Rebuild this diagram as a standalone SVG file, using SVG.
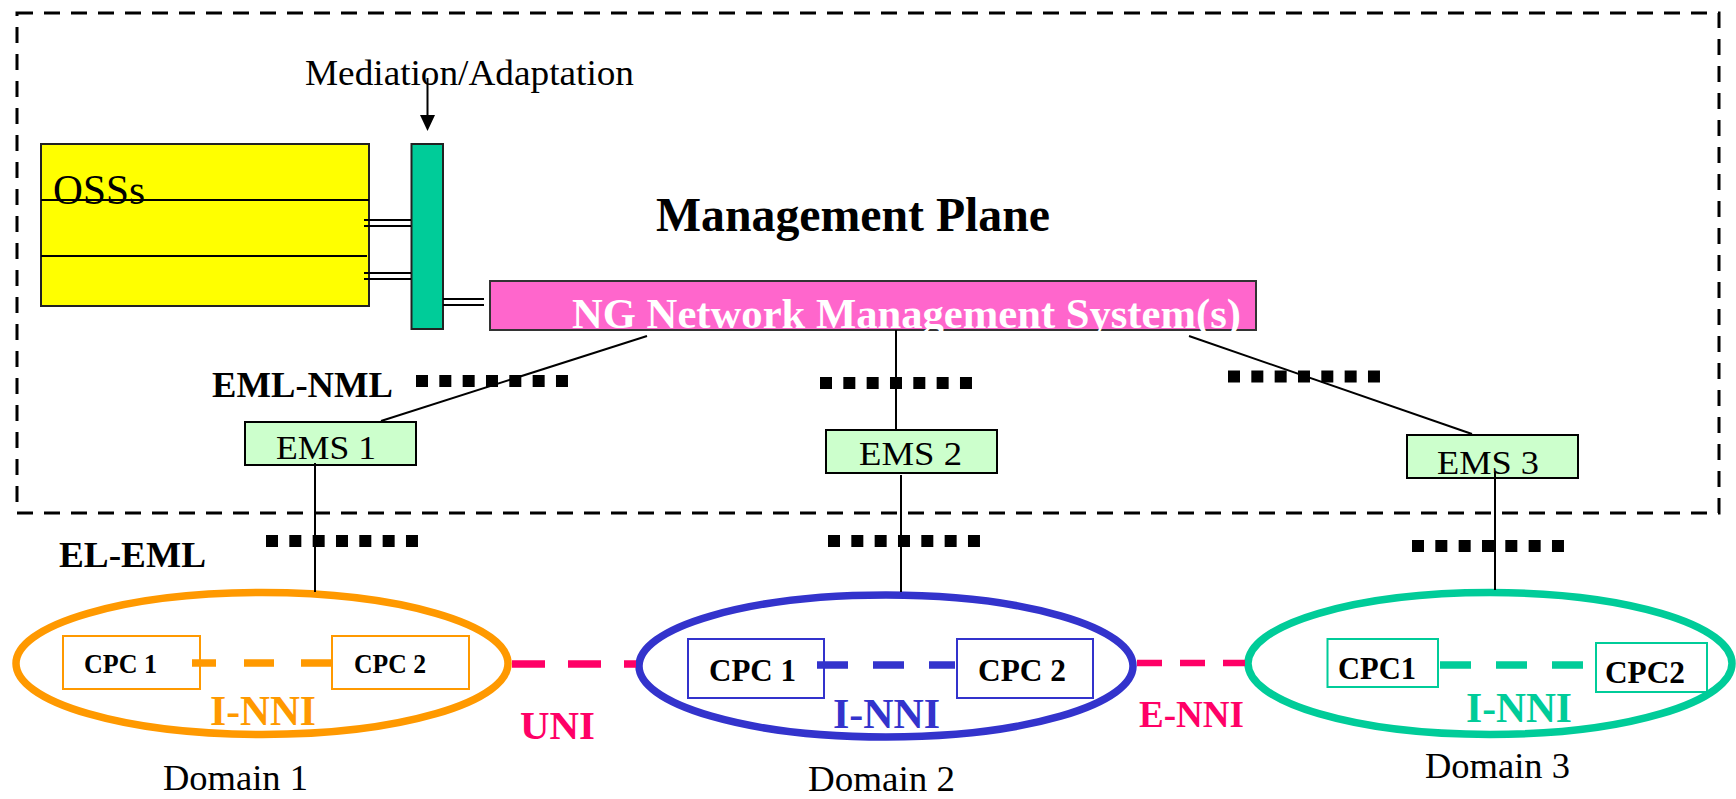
<svg xmlns="http://www.w3.org/2000/svg" width="1736" height="799" viewBox="0 0 1736 799">
<style>
text{font-family:"Liberation Serif","Times New Roman",serif}
.b{font-weight:bold}
.thin{stroke:#000;stroke-width:2;fill:none}
.dots{stroke:#000;stroke-width:12;stroke-dasharray:12 11.33;fill:none}
.ems{fill:#CCFFCC;stroke:#000;stroke-width:2}
.ell{fill:none;stroke-width:7.5}
.cpc{fill:none;stroke-width:2}
.iface{fill:none;stroke-width:7.5}
</style>
<defs>
<marker id="arr" markerWidth="16" markerHeight="15" refX="0" refY="7.5" viewBox="0 0 16 15" markerUnits="userSpaceOnUse" orient="auto">
<path d="M0,0 L16,7.5 L0,15 Z" fill="#000"/>
</marker>
</defs>
<rect width="1736" height="799" fill="#fff"/>

<g id="management-plane">
<rect x="17" y="13" width="1702" height="500" fill="none" stroke="#000" stroke-width="3" stroke-dasharray="16 11"/>
<text x="656" y="231" font-size="48" class="b" textLength="394" lengthAdjust="spacingAndGlyphs">Management Plane</text>
</g>

<g id="mediation-label">
<text x="305" y="85" font-size="36" textLength="329" lengthAdjust="spacingAndGlyphs">Mediation/Adaptation</text>
</g>

<g id="oss">
<rect x="41" y="144" width="328" height="162" fill="#FFFF00" stroke="#222" stroke-width="2"/>
<line x1="41" y1="200" x2="369" y2="200" stroke="#000" stroke-width="2"/>
<line x1="41" y1="256" x2="367" y2="256" stroke="#000" stroke-width="2"/>
<text x="53" y="204" font-size="43" textLength="92" lengthAdjust="spacingAndGlyphs">OSSs</text>
</g>

<g id="mediation-bar">
<rect x="411.5" y="144" width="31.5" height="185" fill="#00CC99" stroke="#222" stroke-width="2"/>
</g>

<g id="ngnms">
<rect x="490" y="281" width="766" height="49" fill="#FF66CC" stroke="#333" stroke-width="2"/>
<text x="572" y="328" font-size="42" class="b" fill="#fff" textLength="669" lengthAdjust="spacingAndGlyphs">NG Network Management System(s)</text>
</g>

<g id="level-labels">
<text x="212" y="397" font-size="36" class="b" textLength="181" lengthAdjust="spacingAndGlyphs">EML-NML</text>
<text x="59" y="567" font-size="36" class="b" textLength="147" lengthAdjust="spacingAndGlyphs">EL-EML</text>
<line class="dots" x1="416" y1="381" x2="568" y2="381"/>
<line class="dots" x1="820" y1="383" x2="972" y2="383"/>
<line class="dots" x1="1228" y1="376.5" x2="1380" y2="376.5"/>
<line class="dots" x1="266" y1="541" x2="418" y2="541"/>
<line class="dots" x1="828" y1="541" x2="980" y2="541"/>
<line class="dots" x1="1412" y1="546" x2="1564" y2="546"/>
</g>

<g id="ems1">
<rect class="ems" x="245" y="422" width="171" height="43"/>
<text x="276" y="459" font-size="34" textLength="100" lengthAdjust="spacingAndGlyphs">EMS 1</text>
</g>
<g id="ems2">
<rect class="ems" x="826" y="430" width="171" height="43"/>
<text x="859" y="465" font-size="34" textLength="103" lengthAdjust="spacingAndGlyphs">EMS 2</text>
</g>
<g id="ems3">
<rect class="ems" x="1407" y="435" width="171" height="43"/>
<text x="1437" y="474" font-size="34" textLength="102" lengthAdjust="spacingAndGlyphs">EMS 3</text>
</g>

<g id="domain1">
<ellipse class="ell" cx="262" cy="663.5" rx="246" ry="71" stroke="#FF9900"/>
<rect class="cpc" x="63" y="636" width="137" height="53" stroke="#FF9900"/>
<text x="84" y="673" font-size="27" class="b" textLength="73" lengthAdjust="spacingAndGlyphs">CPC 1</text>
<rect class="cpc" x="332" y="636" width="137" height="53" stroke="#FF9900"/>
<text x="354" y="673" font-size="27" class="b" textLength="72" lengthAdjust="spacingAndGlyphs">CPC 2</text>
<text x="210" y="725" font-size="42" class="b" fill="#FF9900" textLength="106" lengthAdjust="spacingAndGlyphs">I-NNI</text>
<text x="163" y="790" font-size="36" textLength="145" lengthAdjust="spacingAndGlyphs">Domain 1</text>
</g>

<g id="domain2">
<ellipse class="ell" cx="886" cy="666" rx="247" ry="71" stroke="#3333CC"/>
<rect class="cpc" x="688" y="639" width="136" height="59" stroke="#3333CC"/>
<text x="709" y="681" font-size="32" class="b" textLength="87" lengthAdjust="spacingAndGlyphs">CPC 1</text>
<rect class="cpc" x="957" y="639" width="136" height="59" stroke="#3333CC"/>
<text x="978" y="681" font-size="32" class="b" textLength="88" lengthAdjust="spacingAndGlyphs">CPC 2</text>
<text x="833" y="728" font-size="42" class="b" fill="#3333CC" textLength="107" lengthAdjust="spacingAndGlyphs">I-NNI</text>
<text x="808" y="791" font-size="36" textLength="147" lengthAdjust="spacingAndGlyphs">Domain 2</text>
</g>

<g id="domain3">
<ellipse class="ell" cx="1490" cy="663.5" rx="242" ry="71" stroke="#00CC99"/>
<rect class="cpc" x="1327.5" y="639" width="110.5" height="48" stroke="#00CC99"/>
<text x="1338" y="679" font-size="31" class="b" textLength="78" lengthAdjust="spacingAndGlyphs">CPC1</text>
<rect class="cpc" x="1596" y="643" width="111" height="49" stroke="#00CC99"/>
<text x="1605" y="683" font-size="31" class="b" textLength="80" lengthAdjust="spacingAndGlyphs">CPC2</text>
<text x="1466" y="722" font-size="42" class="b" fill="#00CC99" textLength="106" lengthAdjust="spacingAndGlyphs">I-NNI</text>
<text x="1425" y="778" font-size="36" textLength="145" lengthAdjust="spacingAndGlyphs">Domain 3</text>
</g>

<g id="interface-labels">
<text x="520" y="739" font-size="41" class="b" fill="#FF0066" textLength="75" lengthAdjust="spacingAndGlyphs">UNI</text>
<text x="1139" y="727" font-size="37" class="b" fill="#FF0066" textLength="105" lengthAdjust="spacingAndGlyphs">E-NNI</text>
</g>

<g id="connectors">
<line class="thin" x1="427.5" y1="78" x2="427.5" y2="115" marker-end="url(#arr)"/>
<line class="thin" x1="364" y1="220" x2="411" y2="220"/>
<line class="thin" x1="364" y1="226" x2="411" y2="226"/>
<line class="thin" x1="364" y1="273" x2="411" y2="273"/>
<line class="thin" x1="364" y1="279" x2="411" y2="279"/>
<line class="thin" x1="443" y1="299" x2="484" y2="299"/>
<line class="thin" x1="443" y1="305" x2="484" y2="305"/>
<line class="thin" x1="647" y1="336" x2="381" y2="421"/>
<line class="thin" x1="896" y1="330" x2="896" y2="430"/>
<line class="thin" x1="1189" y1="336" x2="1472" y2="434"/>
<line class="thin" x1="315" y1="463" x2="315" y2="592"/>
<line class="thin" x1="901" y1="475" x2="901" y2="592"/>
<line class="thin" x1="1495" y1="472" x2="1495" y2="590"/>
<line class="iface" x1="192" y1="663" x2="331" y2="663" stroke="#FF9900" stroke-dasharray="24 28 30 27 30 100"/>
<line class="iface" x1="817" y1="665" x2="955" y2="665" stroke="#3333CC" stroke-dasharray="31 25"/>
<line class="iface" x1="1440" y1="665" x2="1583" y2="665" stroke="#00CC99" stroke-dasharray="31 25"/>
<line class="iface" x1="512" y1="664" x2="636" y2="664" stroke="#FF0066" stroke-dasharray="33 23"/>
<line x1="1137" y1="663" x2="1245" y2="663" stroke="#FF0066" stroke-width="6.5" stroke-dasharray="25 18"/>
</g>
</svg>
